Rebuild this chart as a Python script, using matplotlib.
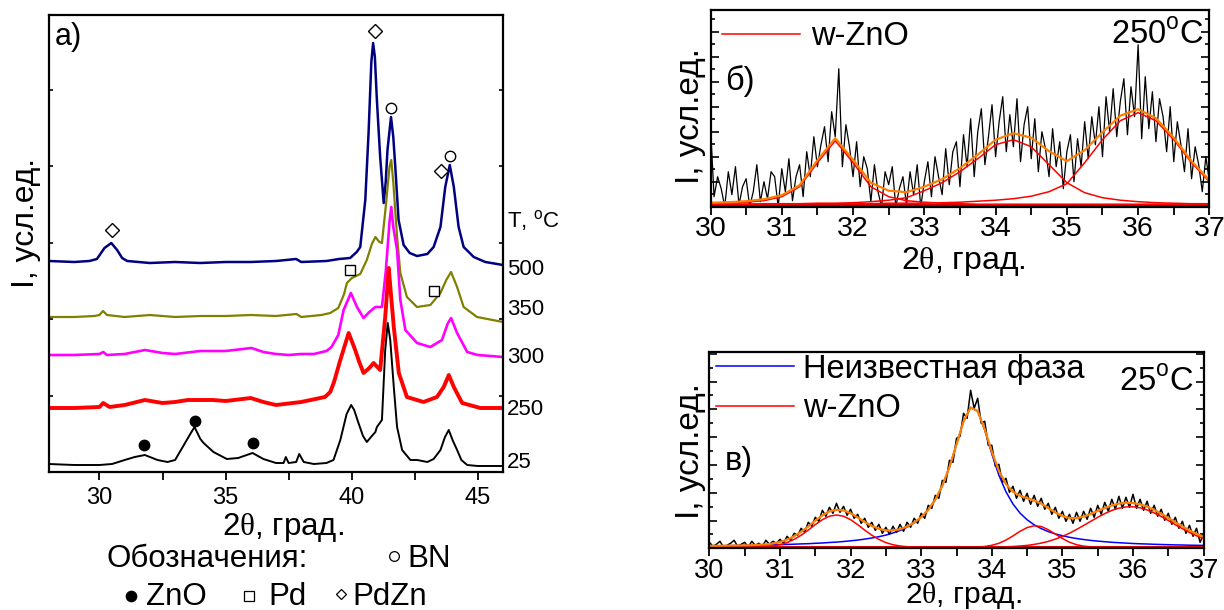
import matplotlib
matplotlib.use("Agg")
import matplotlib.pyplot as plt
from matplotlib.lines import Line2D
from matplotlib.ticker import MultipleLocator

plt.rcParams['font.family'] = ['Liberation Sans', 'DejaVu Sans']
plt.rcParams['mathtext.fontset'] = 'custom'
plt.rcParams['mathtext.rm'] = 'Liberation Serif'
plt.rcParams['mathtext.sf'] = 'Liberation Sans'

# ---- panel a): XRD patterns at different temperatures (intensity in arbitrary units)
x_25 = [28.0, 29.0, 30.0, 30.5, 31.0, 31.4, 31.8, 32.3, 32.7, 33.0, 33.37, 33.6, 33.77, 34.0,
        34.13, 34.52, 35.05, 35.5, 36.07, 36.5, 37.0, 37.3, 37.39, 37.5, 37.8, 37.92, 38.1,
        38.5, 39.0, 39.28, 39.55, 39.8, 39.98, 40.1, 40.27, 40.45, 40.6, 40.8, 40.94, 41.0,
        41.2, 41.33, 41.43, 41.53, 41.67, 41.8, 42.0, 42.33, 42.6, 43.0, 43.25, 43.52, 43.7,
        43.85, 44.0, 44.18, 44.35, 44.58, 45.0, 46.0]
y_25 = [8, 7, 7, 8, 12, 15, 17, 12, 10, 12, 28, 38, 45, 33,
        29, 20, 13, 14, 19, 13, 9, 9, 15, 9, 10, 18, 10,
        8, 9, 12, 32, 58, 67, 62, 49, 36, 30, 36, 40, 45,
        52, 122, 149, 132, 85, 45, 22, 12, 12, 10, 13, 22, 35,
        42, 32, 22, 12, 7, 6, 6]

x_250 = [28.0, 29.0, 30.0, 30.15, 30.4, 31.0, 31.8, 32.5, 33.0, 33.5, 34.5, 35.0, 36.0, 36.5,
         37.0, 38.0, 38.94, 39.15, 39.3, 39.47, 39.55, 39.88, 40.14, 40.3, 40.47, 40.7, 40.87,
         41.13, 41.33, 41.47, 41.55, 41.67, 41.87, 42.19, 42.85, 43.38, 43.65, 43.85, 44.05,
         44.38, 45.1, 46.0]
y_250 = [64, 64, 65, 69, 65, 67, 72, 69, 70, 72, 72, 71, 74, 70,
         67, 70, 75, 80, 90, 105, 112, 139, 122, 110, 99, 104, 109,
         102, 155, 204, 180, 145, 99, 75, 70, 75, 85, 97, 85,
         69, 64, 64]

x_300 = [28.0, 29.0, 30.0, 30.15, 30.3, 31.0, 31.8, 32.5, 33.0, 34.0, 35.0, 36.03, 36.5, 37.0,
         37.5, 38.0, 38.5, 39.0, 39.2, 39.47, 39.68, 39.97, 40.21, 40.47, 40.7, 40.94, 41.2,
         41.35, 41.5, 41.57, 41.65, 41.8, 41.93, 42.13, 42.59, 43.12, 43.58, 43.8, 43.94,
         44.18, 44.58, 45.0, 46.0]
y_300 = [117, 117, 118, 120, 117, 118, 122, 119, 118, 121, 121, 124, 120, 118,
         117, 118, 118, 121, 125, 137, 162, 179, 165, 154, 160, 165, 165,
         200, 250, 265, 245, 222, 172, 142, 129, 125, 132, 148, 154,
         139, 120, 117, 115]

x_350 = [28.0, 29.0, 29.8, 30.0, 30.14, 30.3, 31.0, 32.0, 33.0, 34.0, 35.0, 36.0, 37.0, 37.81,
         38.0, 38.8, 39.15, 39.47, 39.7, 39.81, 40.01, 40.34, 40.6, 40.8, 40.94, 41.1, 41.2,
         41.35, 41.5, 41.57, 41.65, 41.8, 41.93, 42.19, 42.59, 43.12, 43.52, 43.75, 43.94,
         44.18, 44.44, 44.97, 46.0]
y_350 = [155, 155, 156, 157, 161, 157, 155, 157, 155, 156, 156, 157, 156, 158,
         155, 157, 159, 164, 178, 189, 194, 198, 212, 228, 235, 230, 229,
         265, 305, 312, 290, 235, 199, 175, 165, 167, 179, 192, 200,
         185, 165, 155, 150]

x_500 = [28.0, 29.0, 29.6, 29.9, 30.2, 30.47, 30.7, 30.9, 31.1, 32.0, 33.0, 34.0, 35.0, 36.0,
         37.0, 37.8, 38.0, 39.0, 39.5, 39.94, 40.2, 40.34, 40.54, 40.67, 40.78, 40.85, 40.92,
         41.0, 41.13, 41.27, 41.35, 41.42, 41.56, 41.65, 41.73, 41.86, 42.06, 42.3, 42.59,
         43.0, 43.25, 43.52, 43.71, 43.89, 44.05, 44.24, 44.44, 44.84, 45.3, 46.0]
y_500 = [211, 210, 211, 213, 224, 229, 222, 214, 211, 209, 210, 209, 210, 210,
         211, 213, 210, 211, 213, 214, 220, 225, 272, 339, 410, 429, 415,
         372, 315, 269, 290, 322, 355, 335, 305, 252, 227, 219, 216,
         218, 225, 245, 285, 307, 285, 245, 225, 215, 210, 207]

curves_a = [(x_500, y_500, '#000080', 1.8), (x_350, y_350, '#808000', 1.6),
            (x_300, y_300, '#FF00FF', 1.9), (x_250, y_250, '#FF0000', 2.8),
            (x_25, y_25, 'black', 1.4)]

temp_labels = ['T, $^{\\mathsf{o}}$C', '500', '350', '300', '250', '25']
temp_label_y = [245, 197, 157, 109, 57, 4]

# phase marks (2theta, height)
zno_mark = ([31.77, 33.77, 36.07], [27, 51, 29])
pd_mark = ([39.94, 43.25], [202, 181])
pdzn_mark = ([30.49, 40.94, 43.54], [242, 441, 301])
bn_mark = ([41.57, 43.89], [364, 316])

# ---- panel б): 250 C, fitted region 30-37 deg
x_fit_b = [30.0, 30.25, 30.5, 30.75, 31.0, 31.25, 31.5, 31.75, 32.0, 32.25, 32.5, 32.75, 33.0,
           33.25, 33.5, 33.75, 34.0, 34.25, 34.5, 34.75, 35.0, 35.25, 35.5, 35.75, 36.0,
           36.25, 36.5, 36.75, 37.0]
zno1_b = [3, 3.5, 4.5, 6, 10, 20, 44, 66, 44, 20, 10, 6, 4.5,
          3.5, 3, 2.5, 2.5, 2.5, 2.5, 2.5, 2.5, 2.5, 2.5, 2.5, 2.5,
          2.5, 2.5, 2.5, 2.5]
zno2_b = [2.5, 2.5, 2.5, 3, 3, 3, 3.5, 3.5, 4, 5, 6.5, 9, 16,
          24, 35, 48, 62, 67, 60, 42, 24, 14, 9, 6.5, 5,
          4, 3.5, 3, 3]
zno3_b = [2.5, 2.5, 2.5, 2.5, 2.5, 2.5, 3, 3, 3, 3, 3.5, 3.5, 3.5,
          4, 4.5, 5.5, 6.5, 8, 10.5, 15, 23, 44, 67, 86, 94,
          86, 67, 44, 25]
sum_b = [4, 4.5, 5.5, 7.5, 11.5, 21.5, 46.5, 68.5, 47, 24, 16, 14.5, 20,
         27.5, 38.5, 52, 67, 73.5, 69, 55.5, 45.5, 56.5, 74.5, 91, 97.5,
         88.5, 69, 45.5, 26.5]
x_raw_b = [30.0 + 0.05 * i for i in range(141)]
y_raw_b = [80, 10, 30, 18, 0, 35, 12, 40, 2, 20, 28, 0, 15, 42, 5, 25, 8, 35, 30, 0,
           38, 15, 48, 6, 30, 42, 10, 55, 30, 70, 40, 62, 80, 45, 95, 70, 138, 40, 82, 60,
           30, 65, 20, 50, 38, 5, 42, 15, 0, 35, 22, 40, 0, 18, 30, 2, 35, 12, 42, 0,
           25, 45, 10, 50, 30, 12, 58, 22, 55, 65, 20, 72, 40, 88, 30, 75, 98, 42, 70, 102,
           50, 85, 110, 55, 92, 60, 108, 45, 82, 100, 48, 88, 35, 75, 58, 30, 78, 40, 65, 18,
           55, 72, 25, 68, 40, 85, 48, 90, 62, 100, 50, 110, 75, 118, 70, 105, 128, 72, 120, 90,
           162, 68, 130, 78, 115, 65, 108, 90, 55, 100, 45, 85, 62, 35, 78, 28, 60, 42, 15, 50,
           25]

# ---- panel в): 25 C, fitted region 30-37 deg
x_fit_v = [round(30.0 + 0.1 * i, 1) for i in range(71)]
unknown_v = [2.4, 2.5, 2.6, 2.7, 2.8, 2.9, 3.0, 3.2, 3.3, 3.5,
             3.7, 3.9, 4.1, 4.4, 4.6, 5.0, 5.3, 5.8, 6.2, 6.8,
             7.5, 8.2, 9.2, 10.3, 11.6, 13.2, 15.3, 17.8, 21.1, 25.4,
             31.0, 38.5, 48.7, 62.7, 81.2, 103.9, 126.9, 140.8, 137.0, 118.2,
             94.4, 73.2, 56.6, 44.3, 35.2, 28.5, 23.5, 19.7, 16.7, 14.4,
             12.6, 11.0, 9.8, 8.8, 7.9, 7.2, 6.6, 6.0, 5.6, 5.2,
             4.8, 4.5, 4.3, 4.0, 3.8, 3.6, 3.4, 3.3, 3.1, 3.0, 2.9]
zno1_v = [1, 1, 1, 1, 1, 1, 1.1, 1.3, 1.6, 2.3,
          3.6, 5.7, 8.9, 13.1, 18.2, 23.7, 28.6, 32.1, 33.3, 32.1,
          28.6, 23.7, 18.2, 13.1, 8.9, 5.7, 3.6, 2.3, 1.6, 1.3,
          1.1, 1, 1, 1, 1, 1, 1, 1, 1, 1,
          1, 1, 1, 1, 1, 1, 1, 1, 1, 1,
          1, 1, 1, 1, 1, 1, 1, 1, 1, 1,
          1, 1, 1, 1, 1, 1, 1, 1, 1, 1, 1]
zno2_v = [1, 1, 1, 1, 1, 1, 1, 1, 1, 1,
          1, 1, 1, 1, 1, 1, 1, 1, 1, 1,
          1, 1, 1, 1, 1, 1, 1, 1, 1, 1,
          1, 1, 1, 1, 1, 1, 1, 1, 1.3, 1.8,
          3.0, 5.0, 8.2, 12.4, 17.0, 20.7, 22.5, 21.8, 18.6, 14.2,
          9.8, 6.1, 3.6, 2.2, 1.5, 1.2, 1, 1, 1, 1,
          1, 1, 1, 1, 1, 1, 1, 1, 1, 1, 1]
zno3_v = [1, 1, 1, 1, 1, 1, 1, 1, 1, 1,
          1, 1, 1, 1, 1, 1, 1, 1, 1, 1,
          1, 1, 1, 1, 1, 1, 1, 1, 1, 1,
          1, 1, 1, 1, 1, 1, 1, 1, 1.05, 1.1,
          1.2, 1.3, 1.5, 1.8, 2.3, 2.9, 3.9, 5.2, 6.9, 9.2,
          11.9, 15.1, 18.8, 22.8, 26.9, 31.0, 34.7, 37.9, 40.1, 41.4,
          41.5, 40.5, 38.4, 35.4, 31.8, 27.8, 23.6, 19.6, 15.8, 12.5, 9.7]
sum_v = [2.4, 2.5, 2.6, 2.7, 2.8, 2.9, 3.1, 3.5, 3.9, 4.8,
         6.3, 8.6, 12.0, 16.5, 21.8, 27.7, 32.9, 36.9, 38.5, 37.9,
         35.1, 30.9, 26.4, 22.4, 19.5, 17.9, 17.9, 19.1, 21.7, 25.7,
         31.1, 38.5, 48.7, 62.7, 81.2, 103.9, 126.9, 140.8, 137.3, 119.0,
         96.6, 77.5, 64.3, 56.5, 52.5, 50.1, 47.9, 44.7, 40.2, 35.8,
         32.3, 30.2, 30.2, 31.8, 34.3, 37.4, 40.3, 42.9, 44.7, 45.6,
         45.3, 44.0, 41.7, 38.4, 34.6, 30.4, 26.0, 21.9, 17.9, 14.5, 11.6]
x_raw_v = [30.0 + 0.05 * i for i in range(141)]
y_raw_v = [6, 2, 4, 7, 1, 3, 5, 8, 2, 4, 6, 1, 7, 3, 5, 2, 8, 4, 7, 5,
           9, 5, 12, 8, 15, 13, 20, 16, 26, 22, 31, 27, 38, 32, 41, 35, 45, 36, 42, 33,
           39, 30, 34, 25, 30, 21, 26, 18, 24, 15, 21, 14, 22, 16, 24, 17, 26, 21, 30, 25,
           35, 30, 43, 40, 53, 50, 68, 66, 88, 86, 110, 112, 135, 130, 158, 140, 150, 125, 127, 103,
           103, 82, 84, 66, 70, 56, 62, 50, 58, 47, 55, 44, 53, 42, 50, 39, 45, 34, 41, 30,
           37, 27, 34, 25, 36, 27, 37, 29, 40, 31, 43, 34, 46, 37, 49, 39, 52, 40, 51, 41,
           54, 40, 49, 38, 47, 35, 43, 32, 39, 28, 35, 24, 31, 20, 27, 15, 23, 12, 20, 6,
           14]

W, H = 1224, 610
fig = plt.figure(figsize=(W / 100, H / 100), dpi=100)


def box(l, t, r, b):
    return [l / W, 1 - b / H, (r - l) / W, (b - t) / H]


# ================= panel a
ax = fig.add_axes(box(49, 15, 503, 472))
for xs, ys, c, lw in curves_a:
    ax.plot(xs, ys, color=c, lw=lw)
ax.plot(*zno_mark, 'o', color='black', ms=7.5, ls='none')
ax.plot(*pd_mark, 's', mfc='white', mec='black', ms=7, mew=1.0, ls='none')
ax.plot(*pdzn_mark, 'D', mfc='white', mec='black', ms=7.5, mew=1.0, ls='none')
ax.plot(*bn_mark, 'o', mfc='white', mec='black', ms=7.5, mew=1.0, ls='none')
ax.set_xlim(28, 46)
ax.set_ylim(0, 457)
ax.xaxis.set_major_locator(MultipleLocator(5))
ax.xaxis.set_minor_locator(MultipleLocator(2.5))
ax.yaxis.set_major_locator(MultipleLocator(76.5))
ax.tick_params(axis='x', which='both', direction='out', length=6, width=1.3,
               labelsize=17, pad=5)
ax.tick_params(axis='y', which='both', direction='in', length=3, width=1.2,
               left=True, right=True, labelleft=False)
for s in ax.spines.values():
    s.set_linewidth(1.6)
ax.text(0.013, 0.934, 'а)', transform=ax.transAxes, fontsize=22, va='baseline')
for lab, yy in zip(temp_labels, temp_label_y):
    ax.text(46.15, yy, lab, fontsize=16, va='baseline', ha='left', clip_on=False)
fig.text(26 / W, 1 - 223 / H, 'I, усл.ед.', rotation=90, fontsize=23,
         ha='center', va='center')
fig.text(283 / W, 1 - 535 / H, '2$\\mathrm{\\theta}$, град.', fontsize=22.5,
         ha='center', va='baseline')

# legend of marks
fig.text(106 / W, 1 - 567 / H, 'Обозначения:', fontsize=22.5, va='baseline')
fig.text(407 / W, 1 - 567 / H, 'BN', fontsize=22.5, va='baseline')
fig.text(146 / W, 1 - 605 / H, 'ZnO', fontsize=22.5, va='baseline')
fig.text(268 / W, 1 - 605 / H, 'Pd', fontsize=22.5, va='baseline')
fig.text(352 / W, 1 - 605 / H, 'PdZn', fontsize=22.5, va='baseline')
for px, py, mk, fc, ms in [(394, 556, 'o', 'white', 7), (131, 596, 'o', 'black', 7.5),
                           (249, 596, 's', 'white', 6.5), (341, 594, 'D', 'white', 5.5)]:
    fig.add_artist(Line2D([px / W], [1 - py / H], marker=mk, mfc=fc, mec='black',
                          ms=ms, mew=0.9, ls='none', transform=fig.transFigure))


def fit_axes(a, labsize):
    a.set_xlim(30, 37)
    a.set_ylim(0, 196.7)
    a.xaxis.set_major_locator(MultipleLocator(1))
    a.xaxis.set_minor_locator(MultipleLocator(0.5))
    a.tick_params(axis='x', which='both', direction='out', length=6, width=1.3,
                  labelsize=labsize, pad=1)
    a.tick_params(axis='y', which='both', direction='in', left=True, right=True,
                  labelleft=False, width=1.2)
    a.tick_params(axis='y', which='major', length=6)
    a.tick_params(axis='y', which='minor', length=3)
    for s in a.spines.values():
        s.set_linewidth(1.6)


# ================= panel б
axb = fig.add_axes(box(710.5, 10, 1209.4, 206.7))
axb.plot(x_raw_b, y_raw_b, color='black', lw=0.9)
axb.plot([30, 37], [1.5, 1.5], color='#CC0000', lw=2.2)
l_red, = axb.plot(x_fit_b, zno1_b, color='#FF0000', lw=1.1)
axb.plot(x_fit_b, zno2_b, color='#FF0000', lw=1.1)
axb.plot(x_fit_b, zno3_b, color='#FF0000', lw=1.1)
axb.plot(x_fit_b, sum_b, color='#FF8000', lw=1.6)
fit_axes(axb, 20.5)
axb.yaxis.set_major_locator(MultipleLocator(25))
axb.yaxis.set_minor_locator(MultipleLocator(12.5))
axb.legend([l_red], ['w-ZnO'], loc='center left', bbox_to_anchor=(0.023, 0.864),
           frameon=False, fontsize=23.5, handlelength=2.4, handletextpad=0.33,
           borderpad=0, borderaxespad=0)
axb.text(0.029, 0.593, 'б)', transform=axb.transAxes, fontsize=23.5, va='baseline')
axb.text(0.988, 0.831, '250$^{\\mathsf{o}}$C', transform=axb.transAxes, fontsize=23.5,
         va='baseline', ha='right')
fig.text(690 / W, 1 - 116 / H, 'I, усл.ед.', rotation=90, fontsize=24,
         ha='center', va='center')
fig.text(963 / W, 1 - 269 / H, '2$\\mathrm{\\theta}$, град.', fontsize=23,
         ha='center', va='baseline')

# ================= panel в
axv = fig.add_axes(box(709.4, 351.7, 1203.6, 548.3))
axv.plot(x_raw_v, y_raw_v, color='black', lw=1.1)
axv.plot([30, 37], [1.0, 1.0], color='#CC0000', lw=2.2)
l_blue, = axv.plot(x_fit_v, unknown_v, color='#0000FF', lw=1.1)
l_red2, = axv.plot(x_fit_v, zno1_v, color='#FF0000', lw=1.1)
axv.plot(x_fit_v, zno2_v, color='#FF0000', lw=1.1)
axv.plot(x_fit_v, zno3_v, color='#FF0000', lw=1.1)
axv.plot(x_fit_v, sum_v, color='#FF8000', lw=1.6)
fit_axes(axv, 19.5)
axv.set_ylim(0, 196.6)
axv.yaxis.set_major_locator(MultipleLocator(27.8))
axv.yaxis.set_minor_locator(MultipleLocator(13.9))
axv.legend([l_blue, l_red2], ['Неизвестная фаза', 'w-ZnO'], loc='center left',
           bbox_to_anchor=(0.0124, 0.811), frameon=False, fontsize=23.5,
           handlelength=2.4, handletextpad=0.27, borderpad=0, borderaxespad=0,
           labelspacing=0.25)
axv.text(0.032, 0.398, 'в)', transform=axv.transAxes, fontsize=23.5, va='baseline')
axv.text(0.98, 0.80, '25$^{\\mathsf{o}}$C', transform=axv.transAxes, fontsize=23.5,
         va='baseline', ha='right')
fig.text(691 / W, 1 - 451 / H, 'I, усл.ед.', rotation=90, fontsize=24,
         ha='center', va='center')
fig.text(963 / W, 1 - 603 / H, '2$\\mathrm{\\theta}$, град.', fontsize=21.5,
         ha='center', va='baseline')

fig.savefig('out.png', dpi=100, facecolor='white')
